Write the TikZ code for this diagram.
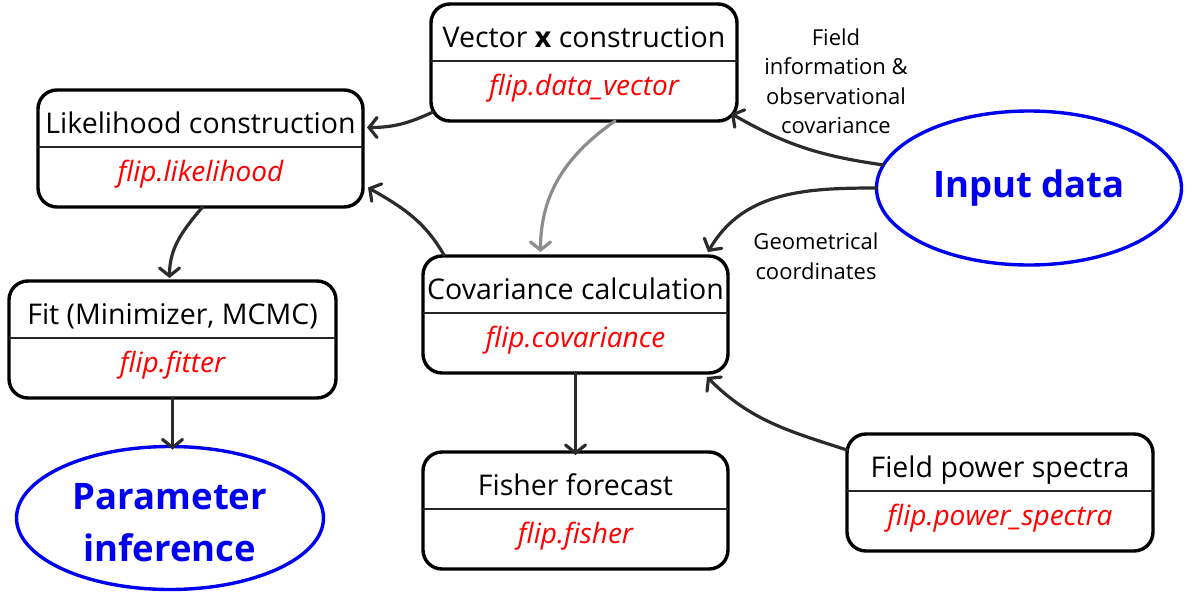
\documentclass[tikz,border=0pt]{standalone}
\usepackage{fontspec}
\setmainfont{Open Sans}
\usetikzlibrary{shapes.geometric,arrows.meta,calc}
\definecolor{arrowgray}{HTML}{2B2B2B}
\definecolor{lightarrow}{HTML}{8C8C8C}
\definecolor{ellblue}{HTML}{0000F0}
\begin{document}
\begin{tikzpicture}[x=1pt,y=-1pt,
  box/.style={draw=black, line width=3.4pt, rounded corners=19pt, inner sep=0pt, outer sep=0pt, minimum height=117pt, anchor=north west},
  titletext/.style={font=\fontsize{28.5}{33}\selectfont, anchor=base, inner sep=0pt},
  codetext/.style={font=\fontsize{28}{33}\selectfont\itshape, text=red, anchor=base, inner sep=0pt},
  divider/.style={draw=black!85, line width=1.2pt},
  ell/.style={ellipse, draw=ellblue, line width=3.4pt, inner sep=0pt, outer sep=0pt, text=ellblue, font=\fontsize{36.5}{52}\selectfont\bfseries, align=center},
  arr/.style={draw=arrowgray, line width=3.2pt, line cap=round, -{Straight Barb[length=8pt,width=20pt,line cap=round]}},
  garr/.style={arr, draw=lightarrow},
  lbl/.style={font=\fontsize{22}{29.5}\selectfont, align=center, inner sep=0pt}
]
\useasboundingbox (0,0) rectangle (1192,595);

% boxes
\node[box, minimum width=306pt] (vec) at (431,4) {};
\node[box, minimum width=325pt] (lik) at (38,90) {};
\node[box, minimum width=327pt] (fit) at (9,281) {};
\node[box, minimum width=305pt] (cov) at (423,256) {};
\node[box, minimum width=305pt] (fish) at (423,452) {};
\node[box, minimum width=306pt] (pow) at (847,434) {};

% texts and dividers
\foreach \b/\t/\c in {vec/{Vector \textbf{x} construction}/{flip.data\_vector},
                      lik/{Likelihood construction}/{flip.likelihood},
                      fit/{Fit (Minimizer, MCMC)}/{flip.fitter},
                      cov/{Covariance calculation}/{flip.covariance},
                      fish/{Fisher forecast}/{flip.fisher},
                      pow/{Field power spectra}/{flip.power\_spectra}}{
  \node[titletext] (\b-t) at ($(\b.north)+(0,43)$) {\t};
  \node[codetext] (\b-c) at ($(\b.north)+(0,91)$) {\c};
  \draw[divider] ($(\b.north west)+(0,57)$) -- ($(\b.north east)+(0,57)$);
}

% ellipses
\node[ell, minimum width=305pt, minimum height=154pt] (inp) at (1029,188) {Input data};
\node[ell, minimum width=307pt, minimum height=143pt] (par) at (170,518) {};
\node[ell, draw=none, inner sep=0pt] (partext) at ([yshift=-5pt]par.center) {Parameter\\inference};

% labels
\node[lbl] (lblfield) at (836,81) {Field\\information \&\\observational\\covariance};
\node[lbl] (lblgeo) at (816,256) {Geometrical\\coordinates};

% connectors
\draw[arr] ([shift={(2,-9)}]vec.south west) to[out=205,in=0] ([shift={(4,-21)}]lik.east);
\draw[arr] ([shift={(21,-1)}]cov.north west) to[out=120,in=-30] ([shift={(5,39)}]lik.east);
\draw[garr] ([shift={(31,0)}]vec.south) to[out=215,in=90] ([shift={(-35,-4)}]cov.north);
\draw[arr] (inp.171) to[out=172,in=-30] ([shift={(-6,51)}]vec.east);
\draw[arr] (inp.180) to[out=180,in=60] ([shift={(-20,-4)}]cov.north east);
\draw[arr] ([shift={(0,16)}]pow.north west) to[out=162,in=-45] ([shift={(-21,4)}]cov.south east);
\draw[arr] ([shift={(2,0)}]lik.south) to[out=230,in=90] ([shift={(-3,-3)}]fit.north);
\draw[arr] (fit.south) -- ([yshift=-3]fit.south |- par.north);
\draw[arr] (cov.south) -- ([yshift=-3]cov.south |- fish.north);
\end{tikzpicture}
\end{document}
